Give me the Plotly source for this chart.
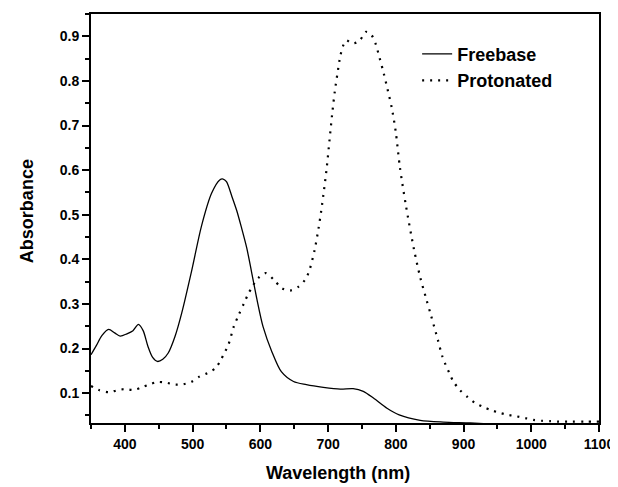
import plotly.graph_objects as go

# Freebase spectrum (solid)
wl_free = [350, 358, 366, 376, 385, 393, 403, 412, 420, 427, 434, 441, 448, 456, 464, 474,
           484, 499, 513, 528, 540, 545, 550, 558, 565, 572, 580, 587, 595, 604, 617, 631,
           649, 668, 693, 718, 737, 752, 767, 787, 805, 836, 870, 910, 950]
abs_free = [0.186, 0.207, 0.229, 0.243, 0.235, 0.228, 0.233, 0.240, 0.254, 0.240, 0.205, 0.180,
            0.171, 0.176, 0.190, 0.227, 0.280, 0.377, 0.474, 0.548, 0.578, 0.580, 0.574, 0.541,
            0.510, 0.472, 0.425, 0.372, 0.310, 0.249, 0.193, 0.148, 0.126, 0.119, 0.113, 0.109,
            0.110, 0.104, 0.089, 0.066, 0.051, 0.039, 0.035, 0.033, 0.030]

# Protonated spectrum (dotted)
wl_prot = [350, 363, 377, 388, 400, 412, 425, 437, 448, 462, 474, 486, 498, 510, 522, 534,
           541, 547, 553, 561, 568, 576, 582, 589, 597, 608, 620, 632, 644, 656, 666, 672,
           680, 686, 690, 694, 698, 702, 706, 710, 714, 718, 722, 727, 735, 742, 748, 756,
           764, 770, 776, 782, 788, 794, 800, 806, 815, 827, 836, 845, 852, 862, 869, 879,
           885, 894, 906, 917, 929, 942, 954, 966, 978, 991, 1003, 1015, 1028, 1040, 1060,
           1080, 1100]
abs_prot = [0.116, 0.106, 0.102, 0.106, 0.109, 0.107, 0.113, 0.120, 0.125, 0.123, 0.119, 0.120,
            0.125, 0.137, 0.145, 0.156, 0.173, 0.190, 0.209, 0.250, 0.275, 0.302, 0.322, 0.341,
            0.358, 0.369, 0.354, 0.335, 0.330, 0.338, 0.354, 0.373, 0.420, 0.470, 0.510, 0.555,
            0.605, 0.665, 0.725, 0.777, 0.818, 0.855, 0.878, 0.891, 0.884, 0.886, 0.893, 0.910,
            0.903, 0.884, 0.852, 0.818, 0.780, 0.740, 0.685, 0.607, 0.520, 0.421, 0.360, 0.311,
            0.274, 0.220, 0.181, 0.145, 0.126, 0.108, 0.091, 0.078, 0.069, 0.061, 0.0555, 0.051,
            0.048, 0.044, 0.040, 0.038, 0.037, 0.036, 0.036, 0.036, 0.036]

x_ticks = [400, 500, 600, 700, 800, 900, 1000, 1100]
y_ticks = [0.1, 0.2, 0.3, 0.4, 0.5, 0.6, 0.7, 0.8, 0.9]

FONT = "Liberation Sans, Arial, Helvetica, sans-serif"

fig = go.Figure()
fig.add_trace(go.Scatter(x=wl_free, y=abs_free, mode="lines", name="Freebase",
                         line=dict(color="black", width=1.3, shape="spline", smoothing=0.8)))
fig.add_trace(go.Scatter(x=wl_prot, y=abs_prot, mode="lines", name="Protonated",
                         line=dict(color="black", width=2.2, dash="2px,6px",
                                   shape="spline", smoothing=0.8)))

axis_common = dict(showline=True, linewidth=2, linecolor="black", mirror=True,
                   ticks="outside", ticklen=7, tickwidth=2, tickcolor="black",
                   showgrid=False, zeroline=False, automargin=False,
                   tickfont=dict(family=FONT, size=14, color="black", weight="bold"))

fig.update_xaxes(range=[350, 1100], tickvals=x_ticks,
                 minor=dict(tick0=350, dtick=50, ticks="outside", ticklen=4,
                            tickwidth=2, tickcolor="black"),
                 **axis_common)
fig.update_yaxes(range=[0.033, 0.95], tickvals=y_ticks, tickformat=".1f",
                 minor=dict(tick0=0.05, dtick=0.05, ticks="outside", ticklen=4,
                            tickwidth=2, tickcolor="black"),
                 **axis_common)

# page has an 8px body margin, so the figure is sized to fit inside the window
fig.update_layout(
    width=610, height=479,
    margin=dict(l=83, r=19, t=6, b=64, autoexpand=False),
    plot_bgcolor="white", paper_bgcolor="white",
    font=dict(family=FONT, color="black"),
    showlegend=True,
    legend=dict(x=0.642, y=0.947, xanchor="left", yanchor="top",
                bgcolor="rgba(0,0,0,0)", borderwidth=0,
                font=dict(family=FONT, size=18, color="black", weight="bold"),
                tracegroupgap=0, itemwidth=30),
    annotations=[
        dict(text="Wavelength (nm)", xref="paper", yref="paper", x=0.486, y=0,
             xanchor="center", yanchor="bottom", yshift=-62, showarrow=False,
             font=dict(family=FONT, size=18, color="black", weight="bold")),
        dict(text="Absorbance", xref="paper", yref="paper", x=-0.126, y=0.518,
             xanchor="center", yanchor="middle", textangle=-90, showarrow=False,
             font=dict(family=FONT, size=18, color="black", weight="bold")),
    ],
)

fig.write_html("out.html")
